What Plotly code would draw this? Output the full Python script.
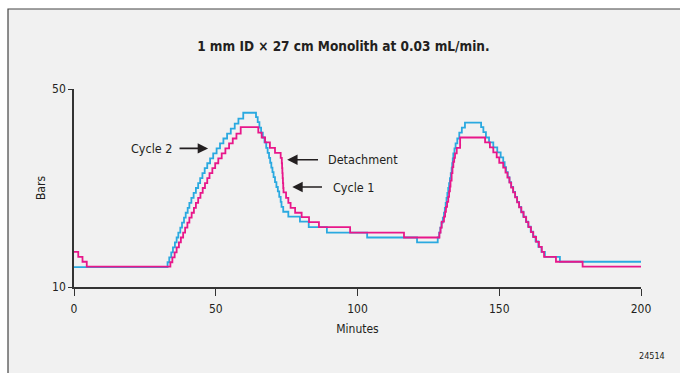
import plotly.graph_objects as go

# ---- data (minutes, bars); step curves ----
cycle1_minutes = [0, 1.5, 3.0, 4.5,
                  34.0, 34.7, 35.5, 36.2, 37.0, 37.7, 38.5, 39.2, 40.0, 40.7, 41.5, 42.3, 43.0, 43.8,
                  44.6, 45.4, 46.2, 47.0, 47.8, 48.8, 49.8, 50.9, 52.1, 53.4, 54.7, 56.0, 57.3, 58.8,
                  65.0, 66.2, 67.4, 69.1, 70.9, 72.9, 73.3, 73.4, 73.5, 73.6, 73.7, 73.8, 73.9,
                  74.8, 75.6, 76.4, 78.0, 80.3, 82.9, 86.4, 97.4, 116.4,
                  128.9, 129.3, 129.7, 130.5, 130.9, 131.2, 131.6, 132.0, 132.3, 132.6, 132.8,
                  133.2, 133.5, 133.8, 134.1, 134.4, 135.0, 136.2,
                  145.0, 146.7, 147.9, 149.1, 150.0, 151.4, 152.2, 152.9, 153.6, 154.2, 154.9,
                  155.6, 156.3, 157.0, 157.8, 158.6, 159.5, 160.3, 161.2, 162.0, 163.0, 164.0,
                  165.0, 165.8, 170.0, 179.4, 200]
cycle1_bars = [17.1, 16.1, 15.1, 14.1,
               15.0, 16.0, 17.0, 18.0, 19.0, 20.0, 21.0, 22.0, 23.0, 24.0, 25.0, 26.0, 27.0, 28.0,
               29.0, 30.0, 31.0, 32.0, 33.0, 34.0, 35.0, 36.0, 37.0, 38.0, 39.0, 40.0, 41.0, 42.3,
               41.2, 40.2, 39.2, 38.1, 37.1, 36.1, 35.0, 34.0, 33.0, 32.0, 31.0, 30.0, 29.1,
               28.0, 27.0, 26.0, 25.0, 24.1, 23.1, 22.1, 21.0, 20.0,
               21.0, 22.0, 23.2, 24.2, 25.2, 26.2, 27.2, 28.2, 29.3, 30.3, 31.5,
               33.0, 34.2, 35.3, 36.1, 37.0, 38.1, 40.2,
               39.2, 38.2, 37.2, 36.2, 35.1, 34.1, 33.1, 32.1, 31.1, 30.1, 29.1,
               28.1, 27.1, 26.1, 25.1, 24.1, 23.1, 22.1, 21.1, 20.1, 19.1, 18.1,
               17.1, 16.1, 15.1, 14.1, 14.1]

cycle2_minutes = [0,
                  33.0, 33.6, 34.3, 34.9, 35.6, 36.2, 36.8, 37.5, 38.1, 38.8, 39.4, 40.1, 40.7, 41.4,
                  42.2, 43.0, 43.8, 44.5, 45.3, 46.1, 47.0, 48.0, 49.1, 50.3, 51.5, 52.7, 54.0,
                  55.3, 56.7, 58.0, 59.7,
                  64.2, 64.8, 65.4, 66.0, 66.6, 67.2, 67.8, 68.3, 68.8, 69.2, 69.6, 70.0, 70.4,
                  70.9, 71.4, 71.9, 72.4, 72.9, 73.2, 73.8, 75.6, 79.7, 82.8, 89.2, 103.4, 121.0,
                  128.3, 128.8, 129.2, 129.6, 130.1, 130.5, 130.8, 131.1, 131.4, 131.7, 132.0,
                  132.3, 132.6, 132.9, 133.2, 133.4, 133.6, 133.8, 134.2, 134.6, 135.2, 135.9,
                  136.8, 137.9,
                  143.6, 144.4, 145.3, 146.4, 147.9, 149.3, 150.5, 151.4, 151.9, 152.4, 153.0,
                  153.6, 154.2, 154.9, 155.6, 156.3, 157.0, 157.7, 158.5, 159.4, 160.2, 161.1,
                  161.9, 162.8, 163.8, 164.9, 166.1, 167.9, 171.4, 200]
cycle2_bars = [14.0,
               15.0, 16.0, 17.0, 18.0, 19.0, 20.0, 21.0, 22.0, 23.0, 24.0, 25.0, 26.0, 27.0, 28.0,
               29.0, 30.0, 31.0, 32.0, 33.0, 34.0, 35.0, 36.0, 37.0, 38.0, 39.0, 40.0, 41.0,
               42.0, 43.0, 44.0, 45.2,
               44.3, 43.3, 42.2, 41.2, 40.2, 39.2, 38.1, 37.1, 36.1, 35.1, 34.1, 33.2, 32.2,
               31.2, 30.2, 29.3, 28.2, 27.2, 26.2, 25.2, 24.2, 23.2, 22.1, 21.0, 20.0, 19.0,
               20.0, 21.0, 22.0, 23.0, 24.0, 25.0, 26.0, 27.0, 28.0, 29.0, 30.0,
               31.0, 32.0, 33.0, 34.0, 35.0, 36.0, 37.0, 38.0, 39.0, 40.0, 41.2,
               42.2, 43.2,
               42.3, 41.3, 40.2, 39.2, 38.2, 37.2, 36.2, 35.2, 34.2, 33.2, 32.2,
               31.2, 30.2, 29.2, 28.2, 27.2, 26.2, 25.2, 24.2, 23.2, 22.2, 21.2,
               20.2, 19.2, 18.1, 17.1, 16.1, 16.1, 15.1, 15.1]

x_ticks = [0, 50, 100, 150, 200]
y_ticks = [10, 50]

title_text = "<b>1 mm ID × 27 cm Monolith at 0.03 mL/min.</b>"
fig_id = "24514"

FONT = "Liberation Sans Narrow, DejaVu Sans Condensed, Arial Narrow, Liberation Sans, sans-serif"
TXT = "#231f20"
CYAN = "#2aa9e0"
MAGENTA = "#e8178a"

fig = go.Figure()
fig.add_trace(go.Scatter(x=cycle2_minutes, y=cycle2_bars, mode="lines", name="Cycle 2",
                         line=dict(color=CYAN, width=1.8, shape="hv")))
fig.add_trace(go.Scatter(x=cycle1_minutes, y=cycle1_bars, mode="lines", name="Cycle 1",
                         line=dict(color=MAGENTA, width=1.8, shape="hv")))

annots = []
arrows = [(47.3, 38.0, 36.7), (75.2, 35.7, 86.6), (77.0, 30.2, 88.0)]
for hx, hy, tx in arrows:
    annots.append(dict(x=hx, y=hy, ax=tx, ay=hy, xref="x", yref="y", axref="x", ayref="y",
                       text="", showarrow=True, arrowhead=2, arrowsize=1.3, arrowwidth=1.6,
                       arrowcolor=TXT))
labels = [("Cycle 2", 35.2, 38.0, "right"), ("Detachment", 89.0, 35.7, "left"),
          ("Cycle 1", 90.5, 30.2, "left")]
for t, lx, ly, anc in labels:
    annots.append(dict(x=lx, y=ly, xref="x", yref="y", text=t, showarrow=False,
                       xanchor=anc, yanchor="middle", font=dict(size=12.5, color=TXT, family=FONT)))
annots.append(dict(x=1.045, y=-0.348, xref="paper", yref="paper", text=fig_id, showarrow=False,
                   xanchor="right", yanchor="middle", font=dict(size=9, color=TXT, family=FONT)))

fig.update_layout(
    width=680, height=373,
    margin=dict(l=74, r=39, t=89, b=86),
    paper_bgcolor="white",
    plot_bgcolor="rgba(0,0,0,0)",
    showlegend=False,
    font=dict(family=FONT, color=TXT, size=12),
    title=dict(text=title_text, x=0.505, xanchor="center", y=1 - 46 / 373, yanchor="middle",
               font=dict(size=13.5, family=FONT, color=TXT)),
    annotations=annots,
    shapes=[dict(type="rect", xref="paper", yref="paper", x0=-0.1164, x1=1.09, y0=-0.48, y1=1.404,
                 fillcolor="#f1f1f1", line=dict(color="#444", width=1.2), layer="below")],
)
fig.update_xaxes(range=[0, 200], tickvals=x_ticks, ticks="outside", ticklen=7, tickcolor="#333",
                 showline=True, linecolor="#333", linewidth=1.5, showgrid=False, zeroline=False,
                 ticklabelstandoff=3,
                 tickfont=dict(size=12), title=dict(text="Minutes", standoff=9, font=dict(size=12)))
fig.update_yaxes(range=[10, 50], tickvals=y_ticks, ticks="outside", ticklen=4, tickcolor="#333",
                 showline=True, linecolor="#333", linewidth=1.5, showgrid=False, zeroline=False,
                 tickfont=dict(size=12), title=dict(text="Bars", standoff=4, font=dict(size=12)))

fig.write_html("out.html")
